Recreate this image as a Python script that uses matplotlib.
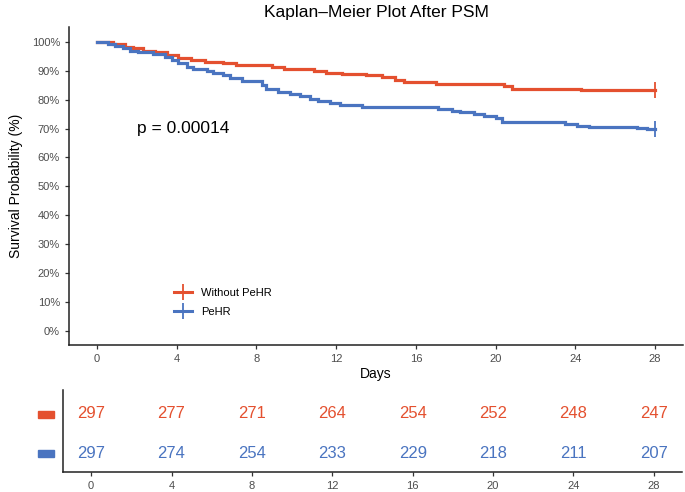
import matplotlib
matplotlib.use("Agg")
import matplotlib.pyplot as plt
from matplotlib.lines import Line2D
import matplotlib.patches as mpatches

plt.rcParams['font.family'] = ['Liberation Sans', 'DejaVu Sans']

RED = "#E4502F"
BLUE = "#4A74C0"

# Kaplan-Meier step data (days, survival %)
red_times = [0, 0.8, 1.4, 1.8, 2.3, 2.9, 3.5, 4.06, 4.7, 5.4, 6.3, 7.0, 8.8, 9.4, 10.9,
             11.5, 12.3, 13.5, 14.3, 14.95, 15.4, 17.0, 20.4, 20.8, 24.3, 28]
red_surv = [100, 99.2, 98.4, 97.8, 97.0, 96.4, 95.3, 94.3, 93.8, 93.2, 92.6, 92.0, 91.4,
            90.7, 90.1, 89.4, 88.9, 88.6, 87.8, 86.9, 86.0, 85.4, 84.8, 83.8, 83.2, 83.2]

blue_times = [0, 0.55, 0.9, 1.3, 1.65, 2.05, 2.8, 3.4, 3.75, 4.06, 4.5, 4.8, 5.5, 5.8, 6.3,
              6.7, 7.3, 8.3, 8.5, 9.1, 9.7, 10.2, 10.7, 11.1, 11.7, 12.2, 13.3, 17.1, 17.8,
              18.2, 18.9, 19.4, 20.0, 20.3, 22.4, 23.5, 24.1, 24.7, 27.1, 27.6, 28]
blue_surv = [100, 99.4, 98.6, 97.8, 97.0, 96.4, 95.8, 94.9, 93.8, 92.6, 91.2, 90.5, 89.9,
             89.2, 88.6, 87.6, 86.3, 85.1, 83.6, 82.8, 81.9, 81.1, 80.3, 79.6, 78.8, 78.2,
             77.4, 76.8, 76.2, 75.7, 75.1, 74.4, 73.6, 72.4, 72.1, 71.5, 70.9, 70.5, 70.1,
             69.8, 69.8]

groups = ["Without PeHR", "PeHR"]
risk_days = [0, 4, 8, 12, 16, 20, 24, 28]
risk_red = [297, 277, 271, 264, 254, 252, 248, 247]
risk_blue = [297, 274, 254, 233, 229, 218, 211, 207]
y_ticks = list(range(0, 101, 10))
p_text = "p = 0.00014"

fig = plt.figure(figsize=(6.85, 4.92), dpi=100)
ax = fig.add_axes([69/685, 1 - 345/492, 614/685, (345 - 27.5)/492])

for t, s, c in [(red_times, red_surv, RED), (blue_times, blue_surv, BLUE)]:
    ax.step(t, s, where='post', color=c, lw=2.3, solid_joinstyle='miter')
    ax.plot([t[-1]], [s[-1]], marker='|', color=c, markersize=12, mew=1.3)

ax.set_xlim(-1.4, 29.4)
ax.set_ylim(-5, 105)
ax.set_xticks(risk_days)
ax.set_yticks(y_ticks)
ax.set_yticklabels([f"{v}%" for v in y_ticks])
for s in ['top', 'right']:
    ax.spines[s].set_visible(False)
for s in ['left', 'bottom']:
    ax.spines[s].set_linewidth(1.1)
    ax.spines[s].set_color('#222222')
ax.tick_params(axis='both', labelsize=8, labelcolor='#4d4d4d', length=3, width=0.9, color='#333333')
ax.set_xlabel("Days", fontsize=10, labelpad=2)
ax.set_ylabel("Survival Probability (%)", fontsize=10, labelpad=6)
fig.text(376/685, 1 - 12/492, "Kaplan\u2013Meier Plot After PSM", fontsize=12.5,
         ha='center', va='center')

ax.text(2.0, 70, p_text, fontsize=12.5, va='center', ha='left')

handles = [Line2D([], [], color=RED, lw=2.2, marker='|', markersize=12, mew=1.3),
           Line2D([], [], color=BLUE, lw=2.2, marker='|', markersize=12, mew=1.3)]
ax.legend(handles, groups, loc='center left', bbox_to_anchor=(0.155, 0.135), frameon=False,
          fontsize=8, handlelength=1.6, handletextpad=0.8, labelspacing=0.8)

# risk table
tx = fig.add_axes([63/685, 1 - 472/492, 619/685, 82/492])
tx.set_xlim(-1.4, 29.4)
tx.set_ylim(-0.45, 1.6)
for d, r, b in zip(risk_days, risk_red, risk_blue):
    tx.text(d, 1, str(r), color=RED, ha='center', va='center', fontsize=12)
    tx.text(d, 0, str(b), color=BLUE, ha='center', va='center', fontsize=12)
tx.set_xticks(risk_days)
tx.set_yticks([])
for s in ['top', 'right']:
    tx.spines[s].set_visible(False)
for s in ['left', 'bottom']:
    tx.spines[s].set_linewidth(1.1)
    tx.spines[s].set_color('#222222')
tx.tick_params(axis='x', labelsize=8, labelcolor='#4d4d4d', length=3, width=0.9, color='#333333')

for yc, c in [(414, RED), (453, BLUE)]:
    fig.patches.append(mpatches.Rectangle((38/685, 1 - (yc + 3.5)/492), 16/685, 7/492,
                                          transform=fig.transFigure, color=c))

fig.savefig("out.png", dpi=100)
